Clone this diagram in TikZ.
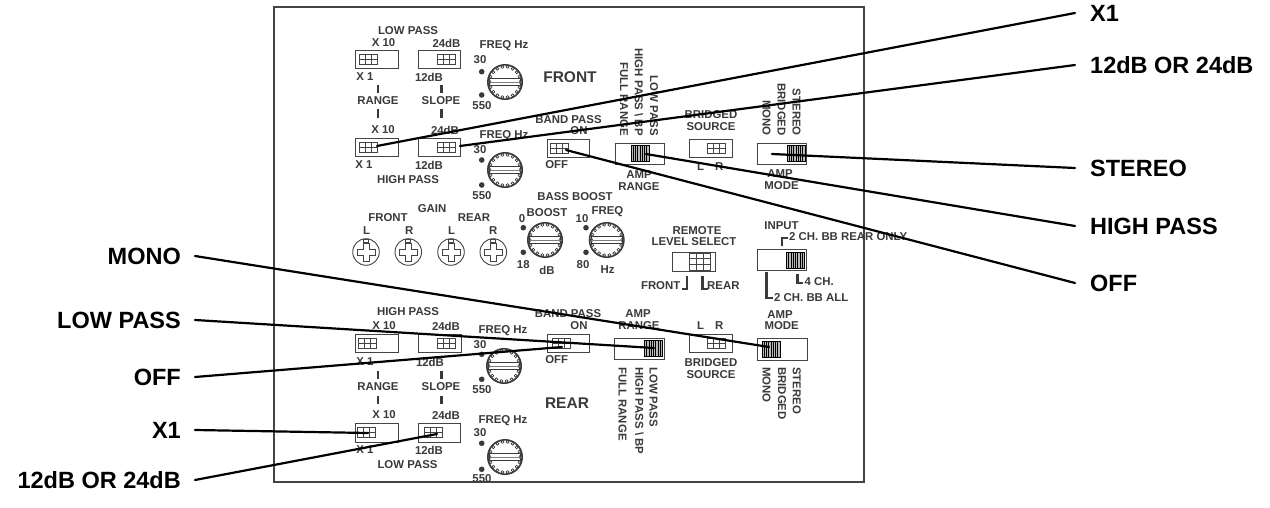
\documentclass[tikz,border=0pt]{standalone}
\usepackage{fontspec}
\setmainfont{Liberation Sans}
\definecolor{txtc}{HTML}{3A3A3A}
\definecolor{boxc}{HTML}{444444}
\newcommand\pnlfont{\fontsize{11.4}{13}\selectfont\bfseries}
\newcommand\bigfnt{\fontsize{15.5}{18}\selectfont\bfseries}
\newcommand\callfnt{\fontsize{23.5}{26}\selectfont\bfseries}
\tikzset{
 lb/.style={font=\pnlfont, text=txtc, inner sep=0pt},
 big/.style={font=\bigfnt, text=txtc, inner sep=0pt},
 call/.style={font=\callfnt, text=black, inner sep=0pt},
 sw/.style={draw=boxc, line width=0.9pt},
 icon/.style={draw=boxc, line width=0.6pt},
 lead/.style={line width=2.2pt, draw=black, line cap=round},
 brk/.style={line width=2.4pt, draw=txtc},
 bar/.style={line width=2.6pt, draw=txtc},
 rv/.style={lb, rotate=-90},
}
\newcommand\dipicon[2]{%
 \draw[icon] (#1,#2) rectangle ++(18,10);
 \draw[icon] (#1+6,#2) -- ++(0,10) (#1+12,#2) -- ++(0,10) (#1,#2+5) -- ++(18,0);}
\newcommand\remicon[2]{%
 \draw[icon] (#1,#2) rectangle ++(21,17);
 \draw[icon] (#1+7,#2) -- ++(0,17) (#1+14,#2) -- ++(0,17) (#1,#2+5.7) -- ++(21,0) (#1,#2+11.3) -- ++(21,0);}
\newcommand\slidr[2]{%
 \fill[gray!55] (#1,#2) rectangle ++(18,16);
 \foreach \i in {1,...,7} \draw[line width=0.6pt] (#1+\i*2.25,#2) -- ++(0,16);
 \draw[line width=0.7pt] (#1,#2) rectangle ++(18,16);}
\newcommand\knobdraw[2]{%
 \draw[line width=1.6pt, txtc] (#1,#2) circle (17.2);
 \foreach \a in {0,20,...,340} \draw[line width=0.7pt, txtc, fill=white] ({#1+15.2*cos(\a)},{#2+15.2*sin(\a)}) circle (1.5);
 \fill[white] (#1,#2) circle (13.7);
 \draw[line width=0.8pt, txtc] (#1-15.5,#2-3.8) rectangle (#1+15.5,#2+3.8);
 \draw[line width=0.5pt, gray] (#1-15.5,#2) -- (#1+15.5,#2);}
\newcommand\screw[2]{%
 \draw[line width=0.9pt, boxc] (#1,#2) circle (13.3);
 \draw[line width=0.8pt, boxc] (#1-3,#2-9) -- (#1+3,#2-9) -- (#1+3,#2-3) -- (#1+9,#2-3) -- (#1+9,#2+3) -- (#1+3,#2+3) -- (#1+3,#2+9) -- (#1-3,#2+9) -- (#1-3,#2+3) -- (#1-9,#2+3) -- (#1-9,#2-3) -- (#1-3,#2-3) -- cycle;
 \draw[line width=0.7pt, boxc] (#1-2.5,#2-13.1) rectangle (#1+2.5,#2-10);}
\newcommand\pdot{\fill[txtc]}
\begin{document}
\begin{tikzpicture}[x=1pt,y=-1pt]
\useasboundingbox (0,0) rectangle (1270,508);
\fill[white] (0,0) rectangle (1270,508);
% panel
\draw[line width=1.6pt, boxc] (274,7) rectangle (864,482);

% ================= FRONT (top) =================
\node[lb] (fLP) at (408,31) {LOW PASS};
\node[lb] (fX10a) at (383.5,43) {X 10};
\node[lb] (f24a) at (446.5,43) {24dB};
\node[lb] (fFQa) at (504,46) {FREQ Hz};
\draw[sw] (355,50) rectangle (398,68); \dipicon{359}{54}
\draw[sw] (418,50) rectangle (460,68); \dipicon{437}{54}
\node[lb] (f30a) at (480,60) {30};
\pdot (481.7,71.7) circle (2.8) (481.7,95) circle (2.8);
\knobdraw{505}{82}
\node[lb] (f550a) at (482,106) {550};
\node[lb] (fX1a) at (365,77) {X 1};
\node[lb] (f12a) at (429,77) {12dB};
\draw[bar] (378,85) -- (378,93); \draw[bar] (378,109) -- (378,118);
\draw[bar] (441.7,85) -- (441.7,93); \draw[bar] (441.7,109) -- (441.7,118);
\node[lb] (fRG) at (378,101) {RANGE};
\node[lb] (fSL) at (441,101) {SLOPE};
\node[lb] (fX10b) at (383,130) {X 10};
\node[lb] (f24b) at (445,130) {24dB};
\node[lb] (fFQb) at (504,136) {FREQ Hz};
\draw[sw] (355,138) rectangle (398,156); \dipicon{359}{142}
\draw[sw] (418,138) rectangle (460,156); \dipicon{437}{142}
\coordinate (pFX1) at (377,146);
\coordinate (pF12) at (460,146);
\node[lb] (f30b) at (480,150) {30};
\pdot (481.7,160) circle (2.8) (481.7,185) circle (2.8);
\knobdraw{505}{170}
\node[lb] (f550b) at (482,196) {550};
\node[lb] (fX1b) at (364,165) {X 1};
\node[lb] (f12b) at (429,165) {12dB};
\node[lb] (fHP) at (408,180) {HIGH PASS};
\node[big] (fFR) at (570,77) {FRONT};
% band pass
\node[lb] (fBP) at (568.5,119.3) {BAND PASS};
\node[lb] (fON) at (579,130.7) {ON};
\draw[sw] (547,139) rectangle (589,157); \dipicon{550}{143}
\coordinate (pFOFF) at (566,150);
\node[lb] (fOFF) at (556.7,165) {OFF};
% amp range
\node[rv, anchor=east] (fRa) at (624,136) {FULL RANGE};
\node[rv, anchor=east] (fRb) at (639,136) {HIGH PASS \textbackslash{} BP};
\node[rv, anchor=east] (fRc) at (654,136) {LOW PASS};
\draw[sw] (615,143) rectangle (664,164); \slidr{631}{145.5}
\coordinate (pFHP) at (646,154);
\node[lb] (fAMPa) at (639,175) {AMP};
\node[lb] (fRNG) at (639,187) {RANGE};
% bridged source
\node[lb] (fBR) at (711,115) {BRIDGED};
\node[lb] (fSO) at (711,127) {SOURCE};
\draw[sw] (689,139) rectangle (732,157); \dipicon{707}{143}
\node[lb] (fL) at (700.7,166.7) {L};
\node[lb] (fR) at (719.3,166.7) {R};
% amp mode
\node[rv, anchor=east] (fMa) at (766.5,136) {MONO};
\node[rv, anchor=east] (fMb) at (781.5,136) {BRIDGED};
\node[rv, anchor=east] (fMc) at (796.5,136) {STEREO};
\draw[sw] (757,143) rectangle (806,164); \slidr{787}{145.5}
\coordinate (pFST) at (772,154);
\node[lb] (fAMPb) at (780,174) {AMP};
\node[lb] (fMODE) at (781.5,186) {MODE};

% ================= MIDDLE =================
\node[lb] (gGAIN) at (432,209) {GAIN};
\node[lb] (gFR) at (388,218) {FRONT};
\node[lb] (gRE) at (474,218) {REAR};
\node[lb] (gL1) at (366.7,231) {L};
\node[lb] (gR1) at (409.3,231) {R};
\node[lb] (gL2) at (451.7,231) {L};
\node[lb] (gR2) at (493.3,231) {R};
\screw{366}{252} \screw{408.3}{252} \screw{451}{252} \screw{493.3}{252}
\node[lb] (bBB) at (575,197) {BASS BOOST};
\node[lb] (bBO) at (547,212.3) {BOOST};
\node[lb] (b0) at (522,219) {0};
\pdot (523.3,227.7) circle (2.8) (523.3,252.3) circle (2.8);
\knobdraw{545}{240}
\node[lb] (b18) at (523.3,264.3) {18};
\node[lb] (bdB) at (547,270) {dB};
\node[lb] (b10) at (582,218.3) {10};
\node[lb] (bFQ) at (607.5,212) {FREQ};
\pdot (586,227.7) circle (2.8) (586,252.3) circle (2.8);
\knobdraw{606.7}{240}
\node[lb] (b80) at (583,264.3) {80};
\node[lb] (bHz) at (607.5,270) {Hz};
% remote
\node[lb] (rRM) at (697,231) {REMOTE};
\node[lb] (rLS) at (694,242) {LEVEL SELECT};
\draw[sw] (672,252) rectangle (715,271); \remicon{689.5}{253}
\node[lb, anchor=east] (rFR) at (680.5,286) {FRONT};
\draw[brk] (687,276) -- (687,289) -- (682,289);
\draw[brk] (702.5,276) -- (702.5,289) -- (707.5,289);
\node[lb, anchor=west] (rRE) at (707,286) {REAR};
% input
\node[lb] (iIN) at (781.5,226) {INPUT};
\draw[brk] (782,245.5) -- (782,238) -- (788,238);
\node[lb, anchor=west] (iRO) at (789,237) {2 CH. BB REAR ONLY};
\draw[sw] (757,249.3) rectangle (806,270.7); \slidr{786.5}{252}
\draw[brk] (766.5,272) -- (766.5,298) -- (773,298);
\node[lb, anchor=west] (iALL) at (774,298) {2 CH. BB ALL};
\draw[brk] (797.5,274) -- (797.5,283) -- (803,283);
\node[lb, anchor=west] (i4) at (804.5,282) {4 CH.};

% ================= REAR (bottom) =================
\node[lb] (rHP) at (408,312) {HIGH PASS};
\node[lb] (rX10a) at (384,326) {X 10};
\node[lb] (r24a) at (446,326) {24dB};
\node[lb] (rFQa) at (503,331) {FREQ Hz};
\draw[sw] (355,334) rectangle (398,352); \dipicon{358}{338}
\draw[sw] (418,334) rectangle (461,352); \dipicon{437}{338}
\node[lb] (r30a) at (480,345) {30};
\pdot (481.7,354.3) circle (2.8) (481.7,379.3) circle (2.8);
\knobdraw{504}{366}
\node[lb] (r550a) at (482,390) {550};
\node[lb] (rX1a) at (365,362) {X 1};
\node[lb] (r12a) at (430,362) {12dB};
\draw[bar] (378,371) -- (378,379.3); \draw[bar] (378,395.5) -- (378,403.5);
\draw[bar] (441.7,371) -- (441.7,379.3); \draw[bar] (441.7,395.5) -- (441.7,403.5);
\node[lb] (rRG) at (378,387) {RANGE};
\node[lb] (rSL) at (441,387) {SLOPE};
\node[lb] (rX10b) at (384,415) {X 10};
\node[lb] (r24b) at (446,415) {24dB};
\node[lb] (rFQb) at (503,421) {FREQ Hz};
\draw[sw] (355,423) rectangle (398,442); \dipicon{357}{427}
\draw[sw] (418,423) rectangle (460,442); \dipicon{424}{427}
\coordinate (pRX1) at (368,433);
\coordinate (pR12) at (437,434);
\node[lb] (r30b) at (480,433) {30};
\pdot (481.7,443.3) circle (2.8) (481.7,469.3) circle (2.8);
\knobdraw{505}{457}
\node[lb] (r550b) at (482,479) {550};
\node[lb] (rX1b) at (365,450) {X 1};
\node[lb] (r12b) at (429,450) {12dB};
\node[lb] (rLP) at (407.5,465) {LOW PASS};
% band pass
\node[lb] (rBP) at (568,314) {BAND PASS};
\node[lb] (rON) at (579,326) {ON};
\draw[sw] (547,334) rectangle (589,352); \dipicon{552}{338}
\coordinate (pROFF) at (562,347);
\node[lb] (rOFF) at (556.7,360) {OFF};
\node[big] (rREAR) at (567,403) {REAR};
% amp range
\node[lb] (rAMPa) at (638,314) {AMP};
\node[lb] (rRNG) at (639,326) {RANGE};
\draw[sw] (614,338) rectangle (664,359); \slidr{644.5}{340.5}
\coordinate (pRLP) at (654,348);
\node[rv, anchor=west] (rRa) at (622.5,367) {FULL RANGE};
\node[rv, anchor=west] (rRb) at (639.5,367) {HIGH PASS \textbackslash{} BP};
\node[rv, anchor=west] (rRc) at (653.5,367) {LOW PASS};
% bridged source
\node[lb] (rL) at (700.7,326) {L};
\node[lb] (rR) at (719.3,326) {R};
\draw[sw] (689,334.3) rectangle (732,352.3); \dipicon{707}{338}
\node[lb] (rBR) at (711,363) {BRIDGED};
\node[lb] (rSO) at (711,375) {SOURCE};
% amp mode
\node[lb] (rAMPb) at (780,315) {AMP};
\node[lb] (rMODE) at (781.7,326) {MODE};
\draw[sw] (757,338) rectangle (807,360); \slidr{762}{341}
\coordinate (pRMO) at (769,347);
\node[rv, anchor=west] (rMa) at (766.5,367) {MONO};
\node[rv, anchor=west] (rMb) at (782,367) {BRIDGED};
\node[rv, anchor=west] (rMc) at (796.7,367) {STEREO};

% ================= CALLOUTS =================
\node[call, anchor=west] (cX1) at (1090,13) {X1};
\node[call, anchor=west] (c12) at (1090,65) {12dB OR 24dB};
\node[call, anchor=west] (cST) at (1090,168) {STEREO};
\node[call, anchor=west] (cHP) at (1090,226) {HIGH PASS};
\node[call, anchor=west] (cOF) at (1090,283) {OFF};
\node[call, anchor=east] (dMO) at (181,256) {MONO};
\node[call, anchor=east] (dLP) at (181,320) {LOW PASS};
\node[call, anchor=east] (dOF) at (181,377) {OFF};
\node[call, anchor=east] (dX1) at (181,430) {X1};
\node[call, anchor=east] (d12) at (181,480) {12dB OR 24dB};

\draw[lead] (pFX1) -- ([xshift=-15pt]cX1.west);
\draw[lead] (pF12) -- ([xshift=-15pt]c12.west);
\draw[lead] (pFST) -- ([xshift=-15pt]cST.west);
\draw[lead] (pFHP) -- ([xshift=-15pt]cHP.west);
\draw[lead] (pFOFF) -- ([xshift=-15pt]cOF.west);
\draw[lead] ([xshift=14pt]dMO.east) -- (pRMO);
\draw[lead] ([xshift=14pt]dLP.east) -- (pRLP);
\draw[lead] ([xshift=14pt]dOF.east) -- (pROFF);
\draw[lead] ([xshift=14pt]dX1.east) -- (pRX1);
\draw[lead] ([xshift=14pt]d12.east) -- (pR12);
\end{tikzpicture}
\end{document}
